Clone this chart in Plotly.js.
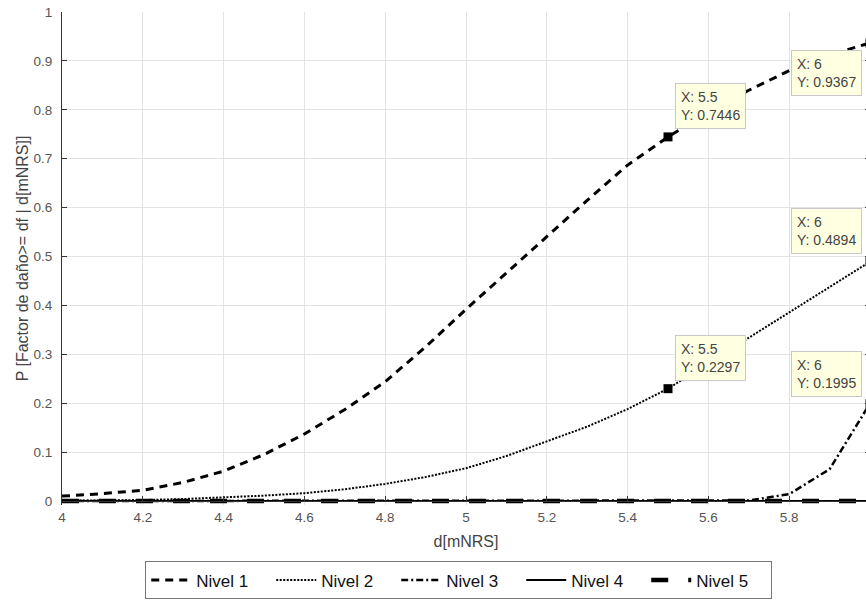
<!DOCTYPE html>
<html>
<head>
<meta charset="utf-8">
<script src="https://cdn.plot.ly/plotly-3.0.1.min.js"></script>
<style>
html, body { margin: 0; padding: 0; overflow: hidden; background: #fff; }
#chart { width: 900px; height: 601px; }
</style>
</head>
<body>
<div id="chart"></div>
<script>
const dValues = [4.0, 4.1, 4.2, 4.3, 4.4, 4.5, 4.6, 4.7, 4.8, 4.9, 5.0, 5.1, 5.2, 5.3, 5.4, 5.5, 5.6, 5.7, 5.8, 5.9, 6.0];
const nivel1 = [0.010, 0.015, 0.022, 0.038, 0.061, 0.095, 0.137, 0.187, 0.244, 0.315, 0.392, 0.467, 0.540, 0.615, 0.687, 0.7446, 0.795, 0.840, 0.880, 0.912, 0.9367];
const nivel2 = [0.0005, 0.001, 0.002, 0.004, 0.007, 0.011, 0.016, 0.024, 0.035, 0.049, 0.067, 0.092, 0.122, 0.152, 0.188, 0.2297, 0.282, 0.334, 0.386, 0.438, 0.4894];
const nivel3 = [0, 0, 0, 0, 0, 0, 0, 0, 0, 0, 0, 0, 0, 0, 0, 0, 0, 0.001, 0.014, 0.065, 0.1995];
const nivel4 = [0, 0, 0, 0, 0, 0, 0, 0, 0, 0, 0, 0, 0, 0, 0, 0, 0, 0, 0, 0, 0];
const nivel5 = [0, 0, 0, 0, 0, 0, 0, 0, 0, 0, 0, 0, 0, 0, 0, 0, 0, 0, 0, 0, 0];
const seriesNames = ['Nivel 1', 'Nivel 2', 'Nivel 3', 'Nivel 4', 'Nivel 5'];

const tipX = [5.5, 6, 5.5, 6, 6];
const tipY = [0.7446, 0.9367, 0.2297, 0.4894, 0.1995];
const tipXLabels = ['5.5', '6', '5.5', '6', '6'];
const tipYLabels = ['0.7446', '0.9367', '0.2297', '0.4894', '0.1995'];

const xTickVals = [4, 4.2, 4.4, 4.6, 4.8, 5, 5.2, 5.4, 5.6, 5.8, 6];
const xTickText = ['4', '4.2', '4.4', '4.6', '4.8', '5', '5.2', '5.4', '5.6', '5.8', '6'];
const yTickVals = [0, 0.1, 0.2, 0.3, 0.4, 0.5, 0.6, 0.7, 0.8, 0.9, 1];
const yTickText = ['0', '0.1', '0.2', '0.3', '0.4', '0.5', '0.6', '0.7', '0.8', '0.9', '1'];

const FONT = 'Liberation Sans, Arial, sans-serif';

// small room below y = 0 so that the thick baseline lines are not half clipped
const yLow = -4 / 489;
const xAxisPos = 4 / 493;

const traces = [
  { x: dValues, y: nivel1, name: seriesNames[0], mode: 'lines',
    line: { color: '#000', width: 3, dash: '8px,6px' } },
  { x: dValues, y: nivel2, name: seriesNames[1], mode: 'lines',
    line: { color: '#000', width: 2, dash: '2px,1.5px' } },
  { x: dValues, y: nivel3, name: seriesNames[2], mode: 'lines',
    line: { color: '#000', width: 2.5, dash: '7px,3px,2px,3px' } },
  { x: dValues, y: nivel4, name: seriesNames[3], mode: 'lines',
    line: { color: '#000', width: 2 } },
  { x: dValues, y: nivel5, name: seriesNames[4], mode: 'lines',
    line: { color: '#000', width: 4.5, dash: '17px,20px' } },
  { x: tipX, y: tipY, mode: 'markers', showlegend: false, hoverinfo: 'skip',
    marker: { symbol: 'square', size: 9, color: '#000' } }
];

const tipAnchors = [
  { xanchor: 'left', yanchor: 'bottom', xshift: 7, yshift: 8 },
  { xanchor: 'right', yanchor: 'top', xshift: -8, yshift: -7 },
  { xanchor: 'left', yanchor: 'bottom', xshift: 7, yshift: 8 },
  { xanchor: 'right', yanchor: 'bottom', xshift: -8, yshift: 8 },
  { xanchor: 'right', yanchor: 'bottom', xshift: -8, yshift: 6 }
];

const annotations = tipX.map((xv, i) => Object.assign({
  x: xv, y: tipY[i], xref: 'x', yref: 'y',
  text: 'X: ' + tipXLabels[i] + '<br>Y: ' + tipYLabels[i],
  showarrow: false, align: 'left',
  font: { family: FONT, size: 14, color: '#444' },
  bgcolor: '#ffffe1', bordercolor: '#c8c8c8', borderwidth: 1, borderpad: 5
}, tipAnchors[i]));

const layout = {
  width: 900, height: 601,
  margin: { l: 62, r: 30, t: 12, b: 96, autoexpand: false },
  paper_bgcolor: '#fff', plot_bgcolor: '#fff',
  showlegend: true,
  font: { family: FONT, color: '#444' },
  xaxis: {
    range: [4, 6], tickvals: xTickVals, ticktext: xTickText,
    anchor: 'free', position: xAxisPos,
    ticks: 'inside', ticklen: 5, tickcolor: '#333', tickwidth: 1,
    showgrid: true, gridcolor: '#e3e3e3', gridwidth: 1,
    showline: true, linecolor: '#333', linewidth: 1, mirror: 'ticks',
    zeroline: false, automargin: false,
    tickfont: { family: FONT, size: 13.5, color: '#555' },
    ticklabelstandoff: 4,
    title: { text: 'd[mNRS]', font: { family: FONT, size: 16, color: '#444' }, standoff: 11 }
  },
  yaxis: {
    range: [yLow, 1], tickvals: yTickVals, ticktext: yTickText,
    ticks: 'inside', ticklen: 5, tickcolor: '#333', tickwidth: 1,
    showgrid: true, gridcolor: '#e3e3e3', gridwidth: 1,
    showline: true, linecolor: '#333', linewidth: 1, mirror: 'ticks',
    zeroline: false, automargin: false,
    tickfont: { family: FONT, size: 13.5, color: '#555' },
    ticklabelstandoff: 6,
    title: { text: 'P [Factor de daño>= df | d[mNRS]]', font: { family: FONT, size: 16, color: '#444' }, standoff: 0 }
  },
  legend: {
    orientation: 'h', x: 0.491, xanchor: 'center',
    yref: 'container', y: 0.066, yanchor: 'top',
    bgcolor: '#fff', bordercolor: '#777', borderwidth: 1,
    font: { family: FONT, size: 17, color: '#111' },
    itemwidth: 40, entrywidth: 70, entrywidthmode: 'pixels',
    tracegroupgap: 0
  },
  annotations: annotations
};

Plotly.newPlot('chart', traces, layout, { displayModeBar: false, staticPlot: true });
</script>
</body>
</html>
